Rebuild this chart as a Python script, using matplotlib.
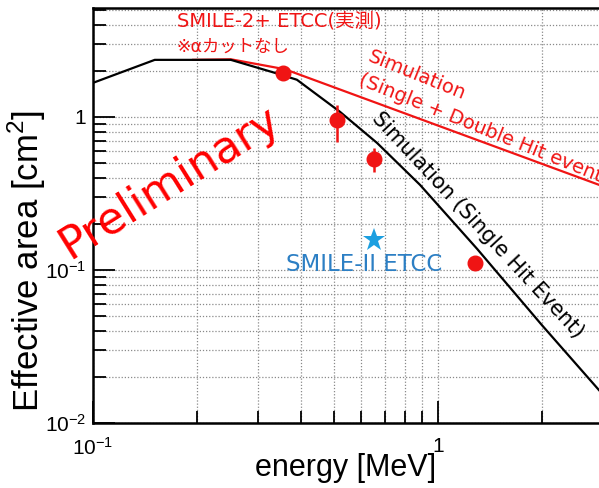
import numpy as np
import matplotlib.pyplot as plt
from matplotlib.ticker import FixedLocator, FuncFormatter, LogLocator, NullFormatter

plt.rcParams['font.family'] = ['Liberation Sans', 'DejaVu Sans']

# measured points, SMILE-2+ ETCC
energy_meas = [0.355, 0.51, 0.652, 1.28]
area_meas = [1.94, 0.955, 0.531, 0.111]
err_low = [0.0, 0.268, 0.094, 0.0]
err_high = [0.0, 0.245, 0.096, 0.0]

# SMILE-II ETCC
energy_smile2 = [0.652]
area_smile2 = [0.157]

# simulation, single hit event
energy_single = [0.1, 0.151, 0.251, 0.337, 0.39, 0.52, 0.666, 0.887, 1.30, 2.0, 2.93]
area_single = [1.67, 2.36, 2.36, 1.94, 1.75, 1.08, 0.676, 0.36, 0.137, 0.0437, 0.0164]

# simulation, single + double hit event
energy_double = [0.195, 0.251, 0.36, 2.93]
area_double = [2.36, 2.38, 2.05, 0.36]

x_ticks = [0.1, 1.0]
x_labels = [r'$\mathdefault{10^{-1}}$', '1']
y_ticks = [0.01, 0.1, 1.0]
y_labels = [r'$\mathdefault{10^{-2}}$', r'$\mathdefault{10^{-1}}$', '1']

RED = '#f01414'
BLUE_TXT = '#2c7fc4'
BLUE_STAR = '#1c9fe0'
ANN = ['DejaVu Sans', 'Noto Sans CJK JP']


def main():
    fig = plt.figure(figsize=(5.99, 4.88), dpi=100)
    ax = fig.add_axes([93 / 599, 65 / 488, 506 / 599, 415 / 488])
    ax.set_xscale('log')
    ax.set_yscale('log')
    ax.set_xlim(0.1, 2.93)
    ax.set_ylim(0.01, 5.15)

    ax.plot(energy_double, area_double, color=RED, lw=1.6, zorder=3)
    ax.plot(energy_single, area_single, color='black', lw=1.6, zorder=3)
    ax.errorbar(energy_meas, area_meas, yerr=[err_low, err_high], fmt='o',
                color=RED, ms=10.5, elinewidth=1.8, capsize=0, zorder=4)
    ax.plot(energy_smile2, area_smile2, '*', color=BLUE_STAR, ms=17,
            markeredgewidth=0, zorder=4)

    # ticks and grid
    ax.xaxis.set_major_locator(FixedLocator(x_ticks))
    ax.xaxis.set_major_formatter(FuncFormatter(lambda v, p: x_labels[p] if p is not None and p < len(x_labels) else ''))
    ax.yaxis.set_major_locator(FixedLocator(y_ticks))
    ax.yaxis.set_major_formatter(FuncFormatter(lambda v, p: y_labels[p] if p is not None and p < len(y_labels) else ''))
    ax.xaxis.set_minor_locator(LogLocator(base=10, subs=np.arange(2, 10)))
    ax.yaxis.set_minor_locator(LogLocator(base=10, subs=np.arange(2, 10)))
    ax.xaxis.set_minor_formatter(NullFormatter())
    ax.yaxis.set_minor_formatter(NullFormatter())
    ax.tick_params(which='both', direction='in', top=False, right=False,
                   width=1.3, labelsize=15)
    ax.tick_params(which='major', length=16)
    ax.tick_params(which='minor', length=9)
    ax.tick_params(axis='x', pad=10)
    ax.tick_params(axis='y', pad=5)
    ax.grid(True, which='both', ls=(0, (1, 1.5)), color='#8a8a8a', lw=0.9)
    for s in ['left', 'bottom', 'top']:
        ax.spines[s].set_linewidth(1.8)
    ax.spines['right'].set_visible(False)

    ax.set_xlabel('energy [MeV]', fontsize=22, va='center')
    ax.set_ylabel(r'Effective area [cm$^\mathdefault{2}$]', fontsize=25,
                  va='center')
    ax.xaxis.set_label_coords(0.5, -0.108)
    ax.yaxis.set_label_coords(-0.13, 0.39)

    # annotations
    ax.text(0.175, 4.24, 'SMILE-2+ ETCC(実測)', color=RED, fontsize=14,
            family=ANN, va='center', ha='left')
    ax.text(0.175, 2.87, '※αカットなし', color=RED, fontsize=12.5,
            family=ANN, va='center', ha='left')
    ax.text(0.644, 2.87, 'Simulation\n(Single + Double Hit event)', color=RED,
            fontsize=14, family=ANN, rotation=-22, rotation_mode='anchor',
            ha='left', va='top', linespacing=1.4)
    ax.text(1.306, 0.197, 'Simulation (Single Hit Event)', color='black',
            fontsize=15, family=ANN, rotation=-47, rotation_mode='anchor',
            ha='center', va='center')
    ax.text(0.610, 0.108, 'SMILE-II ETCC', color=BLUE_TXT, fontsize=16.5,
            family=ANN, ha='center', va='center')
    ax.text(0.167, 0.376, 'Preliminary', color='#ff0000', fontsize=32,
            family=ANN, rotation=32, rotation_mode='anchor',
            ha='center', va='center', zorder=5)

    fig.savefig('out.png', dpi=100)


if __name__ == "__main__":
    main()
